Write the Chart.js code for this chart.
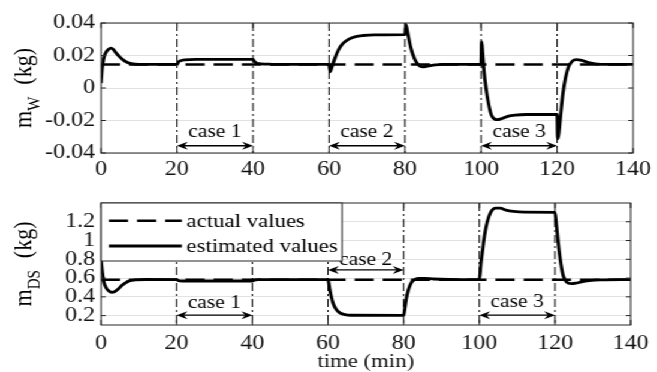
<!DOCTYPE html>
<html>
<head>
<meta charset="utf-8">
<script src="https://cdn.jsdelivr.net/npm/chart.js@4.4.1/dist/chart.umd.min.js"></script>
<style>
  html, body { margin: 0; padding: 0; background: #fff; overflow: hidden; }
  /* figure is drawn narrow and stretched sideways like the exported plot */
  #wrap { position: absolute; left: 0; top: 0; width: 548px; height: 372px;
          transform: scaleX(1.199); transform-origin: 0 0; }
  #wrap canvas { position: absolute; left: 0; }
  #cW { top: 0; }
  #cDS { top: 186px; }
</style>
</head>
<body>
<div id="wrap">
  <canvas id="cW" width="548" height="186"></canvas>
  <canvas id="cDS" width="548" height="186"></canvas>
</div>
<script>
const xTicks = [0, 20, 40, 60, 80, 100, 120, 140];
const caseBounds = [20, 40, 60, 80, 100, 120];
const yTicksW = [-0.04, -0.02, 0, 0.02, 0.04];
const yTicksDS = [0.2, 0.4, 0.6, 0.8, 1, 1.2];

// actual (reference) values
const timeActual = [0, 140];
const actualW = [0.0145, 0.0145];
const actualDS = [0.583, 0.583];

// estimated m_W
const timeW = [0, 0.3, 0.7, 1.2, 2, 2.6, 3.2, 4, 5, 6, 7, 8, 10, 20,
  20.4, 21, 22, 25, 40, 40.4, 41, 42, 45, 50, 60,
  60.3, 60.7, 61.5, 62.5, 63.5, 65, 67, 69, 72, 80,
  80.2, 80.7, 81.5, 82.5, 83.5, 84.7, 86, 88, 90, 95, 100,
  100.15, 100.4, 100.8, 101.3, 102, 102.7, 103.5, 104.3, 105.5, 107, 109, 112, 120,
  120.15, 120.45, 121, 121.5, 122.2, 123, 124, 125, 126.5, 128, 130, 133, 140];
const estW = [0.003, 0.012, 0.018, 0.0215, 0.0238, 0.0245, 0.0238, 0.0215, 0.019, 0.017, 0.0157, 0.015, 0.0145, 0.0145,
  0.016, 0.0168, 0.0173, 0.0176, 0.0176, 0.0162, 0.0153, 0.0149, 0.0146, 0.0145, 0.0145,
  0.0100, 0.0125, 0.018, 0.0235, 0.027, 0.0298, 0.0316, 0.0323, 0.0327, 0.0328,
  0.0392, 0.034, 0.025, 0.018, 0.0143, 0.0130, 0.0135, 0.0143, 0.0146, 0.0145, 0.0145,
  0.0285, 0.022, 0.010, 0.000, -0.010, -0.0165, -0.0190, -0.0195, -0.0188, -0.0175, -0.0167, -0.0163, -0.0162,
  -0.0312, -0.0280, -0.0150, -0.0040, 0.0060, 0.0130, 0.0165, 0.0175, 0.0170, 0.0158, 0.0149, 0.0145, 0.0145];

// estimated m_DS
const timeDS = [0, 0.3, 0.7, 1.3, 2, 2.8, 3.6, 4.5, 5.5, 6.5, 7.5, 9, 12, 20,
  20.5, 21.5, 40, 40.5, 41.5, 60,
  60.3, 60.7, 61.2, 61.8, 62.5, 63.3, 64.5, 66, 80,
  80.3, 80.7, 81.3, 82, 83, 84, 85.5, 88, 92, 100,
  100.4, 100.8, 101.4, 102.1, 103, 104.3, 105.5, 107, 109, 112, 120,
  120.4, 121, 121.6, 122.2, 123, 124.3, 125.5, 127, 129, 132, 140];
const estDS = [0.80, 0.68, 0.57, 0.50, 0.465, 0.448, 0.455, 0.48, 0.52, 0.55, 0.57, 0.58, 0.585, 0.583,
  0.573, 0.569, 0.569, 0.578, 0.583, 0.583,
  0.52, 0.43, 0.35, 0.29, 0.25, 0.225, 0.21, 0.204, 0.203,
  0.27, 0.38, 0.48, 0.55, 0.585, 0.597, 0.597, 0.59, 0.585, 0.583,
  0.75, 0.88, 1.06, 1.20, 1.30, 1.345, 1.345, 1.325, 1.31, 1.302, 1.30,
  1.15, 0.92, 0.74, 0.62, 0.56, 0.54, 0.545, 0.56, 0.572, 0.58, 0.583];

const serif = '"Liberation Serif", "Times New Roman", serif';
const pts = (t, v) => t.map((x, i) => ({x: x, y: v[i]}));

function arrowHead(ctx, x, y, dir) {
  ctx.beginPath();
  ctx.moveTo(x, y);
  ctx.lineTo(x - dir * 9, y - 4);
  ctx.lineTo(x - dir * 6, y);
  ctx.lineTo(x - dir * 9, y + 4);
  ctx.closePath();
  ctx.fill();
}

const frame = {
  id: 'frame',
  beforeDatasetsDraw(chart) {
    const {ctx, chartArea: a, scales: {x}} = chart;
    ctx.save();
    ctx.strokeStyle = '#000';
    ctx.lineWidth = 1;
    ctx.setLineDash([8, 3, 2, 3]);
    caseBounds.forEach(t => {
      const px = x.getPixelForValue(t);
      ctx.beginPath();
      ctx.moveTo(px, a.top);
      ctx.lineTo(px, a.bottom);
      ctx.stroke();
    });
    ctx.restore();
  },
  afterDraw(chart, args, o) {
    const {ctx, chartArea: a, scales: {x, y}} = chart;
    ctx.save();

    // box with inward ticks
    ctx.strokeStyle = '#262626';
    ctx.lineWidth = 1;
    ctx.strokeRect(a.left, a.top, a.right - a.left, a.bottom - a.top);
    ctx.beginPath();
    y.ticks.forEach(t => {
      const py = y.getPixelForValue(t.value);
      ctx.moveTo(a.left, py); ctx.lineTo(a.left + 4, py);
      ctx.moveTo(a.right, py); ctx.lineTo(a.right - 4, py);
    });
    x.ticks.forEach(t => {
      const px = x.getPixelForValue(t.value);
      ctx.moveTo(px, a.bottom); ctx.lineTo(px, a.bottom - 5);
      ctx.moveTo(px, a.top); ctx.lineTo(px, a.top + 5);
    });
    ctx.stroke();

    // case arrows
    ctx.fillStyle = '#000';
    ctx.strokeStyle = '#000';
    ctx.font = '18px ' + serif;
    ctx.textAlign = 'center';
    ctx.textBaseline = 'alphabetic';
    o.cases.forEach(c => {
      const x1 = x.getPixelForValue(c.from), x2 = x.getPixelForValue(c.to);
      const py = y.getPixelForValue(c.at);
      ctx.lineWidth = 1.4;
      ctx.beginPath();
      ctx.moveTo(x1 + 5, py);
      ctx.lineTo(x2 - 5, py);
      ctx.stroke();
      arrowHead(ctx, x1, py, -1);
      arrowHead(ctx, x2, py, 1);
      ctx.fillText(c.text, (x1 + x2) / 2, py - c.lift);
    });

    // y title with subscript
    const [main, sub, unit] = o.title;
    ctx.translate(26.4, (a.top + a.bottom) / 2);
    ctx.rotate(-Math.PI / 2);
    ctx.textAlign = 'left';
    ctx.font = '22px ' + serif;
    const wm = ctx.measureText(main).width, wu = ctx.measureText(unit).width;
    ctx.font = '15px ' + serif;
    const ws = ctx.measureText(sub).width;
    let u = -(wm + ws + 12 + wu) / 2;
    ctx.font = '22px ' + serif;
    ctx.fillText(main, u, 0);
    u += wm;
    ctx.font = '15px ' + serif;
    ctx.fillText(sub, u, 7);
    u += ws + 12;
    ctx.font = '22px ' + serif;
    ctx.fillText(unit, u, 0);
    ctx.setTransform(1, 0, 0, 1, 0, 0);

    // legend box in the upper left corner
    if (o.legend) {
      const lx = a.left, ly = a.top, lw = 201, lh = 58;
      ctx.fillStyle = '#fff';
      ctx.fillRect(lx, ly, lw, lh);
      ctx.strokeStyle = '#262626';
      ctx.lineWidth = 1;
      ctx.strokeRect(lx, ly, lw, lh);
      ctx.font = '19px ' + serif;
      ctx.textBaseline = 'middle';
      chart.data.datasets.forEach((ds, i) => {
        const ry = ly + 17.7 + i * 25.3;
        ctx.strokeStyle = ds.borderColor;
        ctx.lineWidth = ds.borderWidth;
        ctx.setLineDash(ds.borderDash || []);
        ctx.beginPath();
        ctx.moveTo(lx + 6.6, ry);
        ctx.lineTo(lx + 67.5, ry);
        ctx.stroke();
        ctx.setLineDash([]);
        ctx.fillStyle = '#000';
        ctx.fillText(ds.label, lx + 71.4, ry + 1);
      });
    }
    ctx.restore();
  }
};

function makeChart(id, actual, time, est, yMin, yMax, yTicks, opts) {
  return new Chart(document.getElementById(id), {
    type: 'line',
    data: {
      datasets: [
        {label: 'actual values', data: pts(timeActual, actual), borderColor: '#000',
         borderWidth: 2.5, borderDash: [16, 7.5], pointRadius: 0},
        {label: 'estimated values', data: pts(time, est), borderColor: '#000',
         borderWidth: 2.8, pointRadius: 0, cubicInterpolationMode: 'monotone'}
      ]
    },
    options: {
      responsive: false,
      animation: false,
      events: [],
      layout: {autoPadding: false, padding: {left: 0, right: 15.5, top: opts.top, bottom: 0}},
      plugins: {
        legend: {display: false},
        tooltip: {enabled: false},
        frame: {cases: opts.cases, title: opts.title, legend: opts.legend}
      },
      scales: {
        x: {
          type: 'linear', min: 0, max: 140,
          afterBuildTicks: s => { s.ticks = xTicks.map(v => ({value: v})); },
          afterFit: s => { s.height = opts.xHeight; },
          grid: {display: false, drawTicks: false},
          border: {display: false},
          ticks: {color: '#111', font: {family: serif, size: 20}, padding: opts.xPad,
                  maxRotation: 0, autoSkip: false},
          title: {display: !!opts.xTitle, text: opts.xTitle || '', color: '#111',
                  font: {family: serif, size: 19, lineHeight: 1}, padding: {top: 0, bottom: 0}}
        },
        y: {
          min: yMin, max: yMax,
          afterBuildTicks: s => { s.ticks = yTicks.map(v => ({value: v})); },
          afterFit: s => { s.width = 84.2; },
          grid: {color: '#e2e2e2', drawTicks: false},
          border: {display: false},
          ticks: {color: '#111', font: {family: serif, size: 20}, padding: 5,
                  autoSkip: false, callback: v => String(v)}
        }
      }
    },
    plugins: [frame]
  });
}

makeChart('cW', actualW, timeW, estW, -0.04, 0.04, yTicksW, {
  top: 23, xHeight: 33, xPad: 5,
  title: ['m', 'W', '(kg)'],
  legend: false,
  cases: [
    {from: 20, to: 40, at: -0.0355, lift: 8.5, text: 'case 1'},
    {from: 60, to: 80, at: -0.0355, lift: 8.5, text: 'case 2'},
    {from: 100, to: 120, at: -0.0355, lift: 8.5, text: 'case 3'}
  ]
});

makeChart('cDS', actualDS, timeDS, estDS, 0.1, 1.4, yTicksDS, {
  top: 8.7, xHeight: 47, xPad: 7, xTitle: 'time (min)',
  title: ['m', 'DS', '(kg)'],
  legend: true,
  cases: [
    {from: 20, to: 40, at: 0.205, lift: 7.5, text: 'case 1'},
    {from: 60, to: 80, at: 0.687, lift: 4.5, text: 'case 2'},
    {from: 100, to: 120, at: 0.205, lift: 8.5, text: 'case 3'}
  ]
});
</script>
</body>
</html>
